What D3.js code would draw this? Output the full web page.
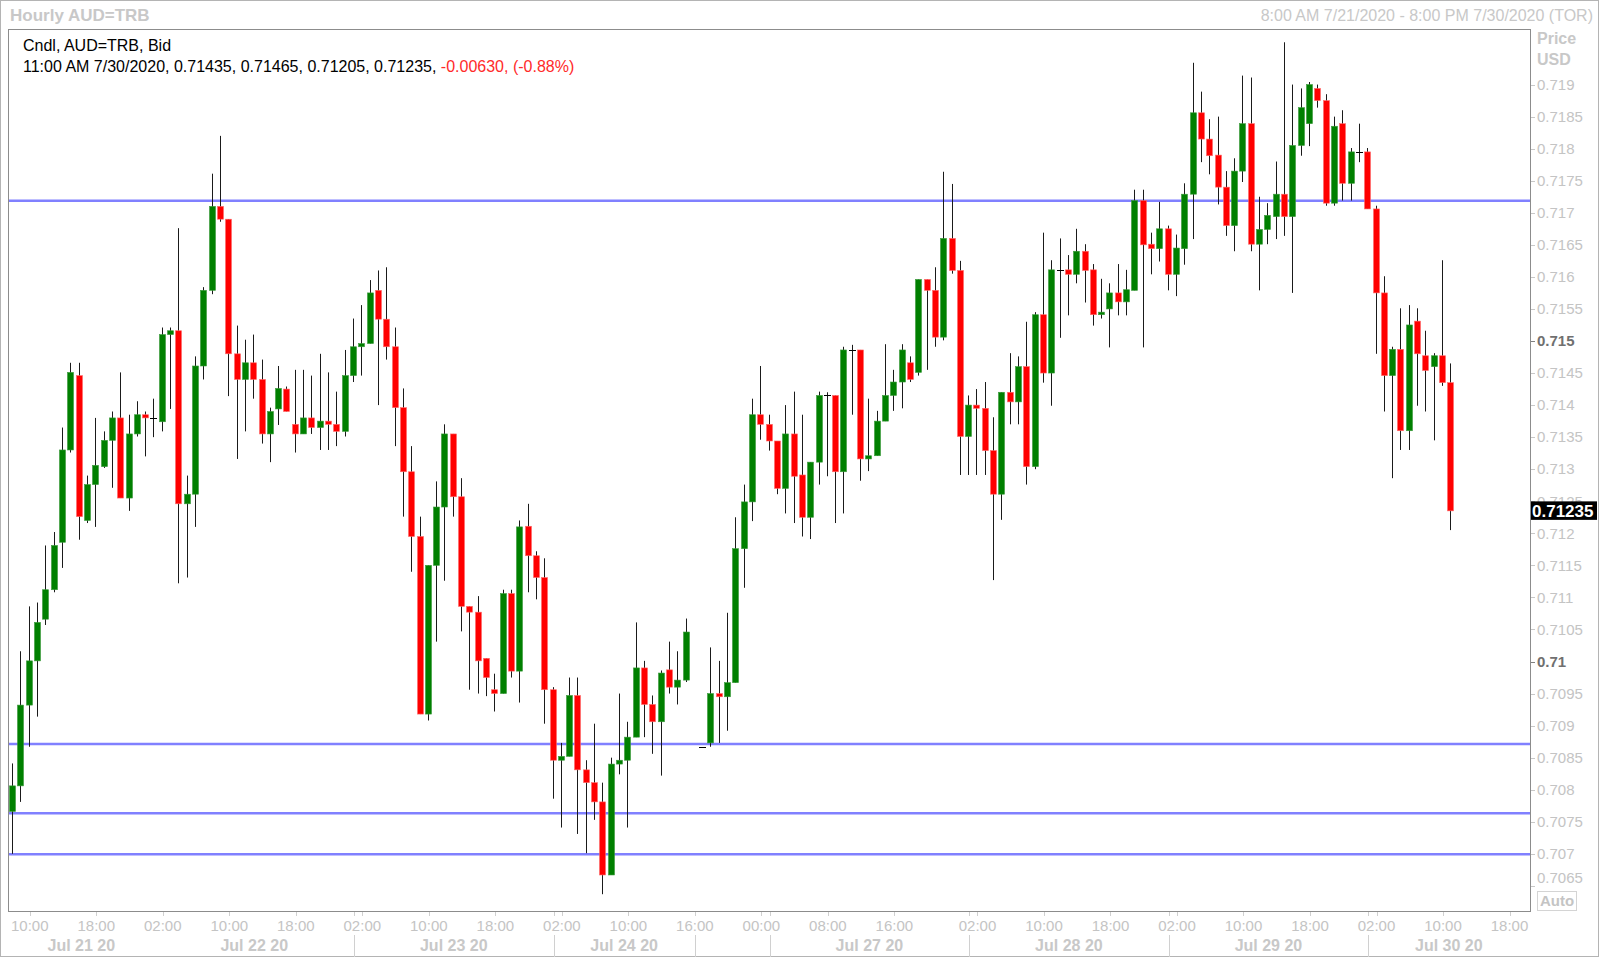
<!DOCTYPE html>
<html><head><meta charset="utf-8">
<script src="https://cdn.jsdelivr.net/npm/d3@7"></script>
<style>body{margin:0;background:#fff;} svg{display:block;font-family:"Liberation Sans",Arial,sans-serif;}</style>
</head><body><svg id="c" width="1600" height="958"></svg>
<script>
// Hourly OHLC, one entry per slot (null = empty slot at the weekend break)
const openP = [0.70766,0.70806,0.70932,0.71001,0.71066,0.71112,0.71186,0.71330,0.71446,0.71220,
0.71276,0.71304,0.71345,0.71380,0.71255,0.71355,0.71385,0.71380,0.71374,0.71510,
0.71516,0.71246,0.71261,0.71461,0.71579,0.71710,0.71690,0.71480,0.71440,0.71466,
0.71440,0.71355,0.71394,0.71425,0.71370,0.71355,0.71380,0.71365,0.71375,0.71370,
0.71359,0.71446,0.71491,0.71496,0.71579,0.71534,0.71491,0.71396,0.71296,0.71195,
0.70918,0.71150,0.71241,0.71355,0.71257,0.71086,0.71077,0.71005,0.70956,0.70950,
0.71106,0.70985,0.71211,0.71165,0.71131,0.70956,0.70846,0.70852,0.70947,0.70831,
0.70811,0.70781,0.70667,0.70840,0.70846,0.70882,0.70990,0.70933,0.70906,0.70987,
0.70960,0.70971,null,0.70867,0.70873,0.70950,0.70945,0.70967,0.71176,0.71249,
0.71385,0.71370,0.71344,0.71270,0.71355,0.71291,0.71225,0.71311,0.71415,0.71415,
0.71296,0.71486,0.71486,0.71316,0.71321,0.71375,0.71415,0.71436,0.71466,0.71451,
0.71596,0.71579,0.71506,0.71660,0.71610,0.71351,0.71400,0.71395,0.71329,0.71261,
0.71420,0.71405,0.71460,0.71304,0.71541,0.71450,0.71611,0.71611,0.71604,0.71640,
0.71611,0.71541,0.71550,0.71575,0.71561,0.71579,0.71719,0.71651,0.71644,0.71675,
0.71604,0.71644,0.71729,0.71856,0.71815,0.71790,0.71740,0.71680,0.71765,0.71839,
0.71651,0.71674,0.71694,0.71729,0.71694,0.71805,0.71839,0.71894,0.71875,0.71715,
0.71839,0.71746,0.71795,0.71795,0.71706,0.71575,0.71446,0.71487,0.71360,0.71531,
0.71477,0.71460,0.71477,0.71435];
const highP = [0.70841,0.71016,0.71086,0.71092,0.71181,0.71202,0.71365,0.71466,0.71466,0.71290,
0.71380,0.71359,0.71390,0.71451,0.71385,0.71406,0.71390,0.71410,0.71521,0.71521,
0.71676,0.71290,0.71476,0.71584,0.71761,0.71820,0.71690,0.71524,0.71502,0.71510,
0.71471,0.71396,0.71461,0.71429,0.71455,0.71455,0.71446,0.71480,0.71451,0.71421,
0.71486,0.71535,0.71556,0.71595,0.71610,0.71615,0.71521,0.71426,0.71336,0.71226,
0.71150,0.71281,0.71370,0.71355,0.71286,0.71086,0.71102,0.71005,0.70981,0.71112,
0.71112,0.71220,0.71246,0.71172,0.71161,0.70960,0.70873,0.70975,0.70975,0.70846,
0.70903,0.70811,0.70850,0.70950,0.70906,0.71061,0.71001,0.70947,0.70986,0.71031,
0.71016,0.71067,null,0.70867,0.71022,0.71001,0.71076,0.71225,0.71276,0.71410,
0.71461,0.71385,0.71344,0.71400,0.71421,0.71385,0.71311,0.71421,0.71420,0.71415,
0.71491,0.71494,0.71486,0.71410,0.71391,0.71495,0.71455,0.71495,0.71476,0.71596,
0.71596,0.71615,0.71764,0.71745,0.71625,0.71415,0.71425,0.71436,0.71381,0.71420,
0.71481,0.71476,0.71530,0.71545,0.71669,0.71626,0.71660,0.71634,0.71675,0.71651,
0.71620,0.71597,0.71590,0.71620,0.71611,0.71736,0.71736,0.71669,0.71717,0.71680,
0.71666,0.71746,0.71934,0.71889,0.71846,0.71850,0.71765,0.71785,0.71914,0.71911,
0.71725,0.71715,0.71780,0.71966,0.71900,0.71894,0.71904,0.71900,0.71885,0.71850,
0.71860,0.71801,0.71839,0.71801,0.71711,0.71601,0.71491,0.71551,0.71556,0.71551,
0.71516,0.71481,0.71626,0.71465];
const lowP = [0.70700,0.70781,0.70867,0.70914,0.71057,0.71108,0.71146,0.71326,0.71190,0.71216,
0.71210,0.71302,0.71271,0.71255,0.71235,0.71351,0.71320,0.71350,0.71359,0.71394,
0.71122,0.71131,0.71210,0.71440,0.71573,0.71686,0.71414,0.71316,0.71359,0.71410,
0.71340,0.71311,0.71369,0.71390,0.71326,0.71355,0.71355,0.71330,0.71330,0.71336,
0.71351,0.71436,0.71446,0.71496,0.71400,0.71471,0.71336,0.71226,0.71140,0.70918,
0.70908,0.71031,0.71126,0.71226,0.71047,0.70956,0.70950,0.70946,0.70922,0.70950,
0.70975,0.70936,0.71108,0.71097,0.70903,0.70786,0.70741,0.70852,0.70731,0.70701,
0.70753,0.70637,0.70667,0.70824,0.70741,0.70882,0.70882,0.70856,0.70822,0.70950,
0.70933,0.70968,null,0.70867,0.70867,0.70873,0.70892,0.70967,0.71115,0.71219,
0.71346,0.71329,0.71261,0.71231,0.71216,0.71195,0.71191,0.71276,0.71289,0.71216,
0.71231,0.71385,0.71282,0.71297,0.71321,0.71375,0.71391,0.71395,0.71436,0.71446,
0.71455,0.71491,0.71501,0.71605,0.71291,0.71291,0.71291,0.71291,0.71127,0.71221,
0.71370,0.71370,0.71276,0.71300,0.71435,0.71399,0.71505,0.71540,0.71590,0.71560,
0.71524,0.71535,0.71490,0.71540,0.71540,0.71579,0.71490,0.71604,0.71624,0.71579,
0.71570,0.71619,0.71659,0.71779,0.71760,0.71713,0.71664,0.71640,0.71748,0.71640,
0.71579,0.71651,0.71659,0.71664,0.71575,0.71789,0.71804,0.71864,0.71711,0.71711,
0.71719,0.71719,0.71779,0.71706,0.71480,0.71390,0.71286,0.71330,0.71330,0.71399,
0.71390,0.71345,0.71430,0.71205];
const closeP = [0.70806,0.70932,0.71001,0.71061,0.71112,0.71181,0.71330,0.71451,0.71226,0.71276,
0.71306,0.71345,0.71380,0.71255,0.71355,0.71385,0.71380,0.71380,0.71510,0.71516,
0.71246,0.71261,0.71461,0.71579,0.71710,0.71690,0.71480,0.71440,0.71466,0.71440,
0.71355,0.71390,0.71426,0.71390,0.71355,0.71380,0.71365,0.71375,0.71370,0.71359,
0.71446,0.71491,0.71496,0.71575,0.71534,0.71491,0.71396,0.71296,0.71195,0.70918,
0.71150,0.71241,0.71355,0.71257,0.71086,0.71077,0.71001,0.70975,0.70950,0.71106,
0.70985,0.71210,0.71165,0.71131,0.70956,0.70846,0.70852,0.70947,0.70831,0.70811,
0.70781,0.70667,0.70840,0.70846,0.70882,0.70990,0.70933,0.70906,0.70982,0.70960,
0.70971,0.71046,null,0.70867,0.70950,0.70945,0.70967,0.71176,0.71249,0.71385,
0.71370,0.71344,0.71270,0.71355,0.71289,0.71225,0.71311,0.71415,0.71415,0.71296,
0.71486,0.71486,0.71316,0.71321,0.71375,0.71415,0.71436,0.71486,0.71440,0.71596,
0.71579,0.71506,0.71660,0.71610,0.71351,0.71400,0.71395,0.71329,0.71261,0.71420,
0.71405,0.71460,0.71304,0.71541,0.71450,0.71611,0.71611,0.71604,0.71640,0.71610,
0.71541,0.71545,0.71575,0.71561,0.71580,0.71719,0.71650,0.71644,0.71675,0.71604,
0.71645,0.71729,0.71856,0.71815,0.71789,0.71740,0.71680,0.71765,0.71839,0.71651,
0.71674,0.71696,0.71729,0.71694,0.71805,0.71864,0.71900,0.71875,0.71715,0.71835,
0.71746,0.71795,0.71795,0.71706,0.71575,0.71446,0.71487,0.71360,0.71525,0.71480,
0.71454,0.71477,0.71435,0.71235];

// Horizontal support / resistance levels
const levels = [0.717187, 0.708715, 0.707632, 0.706995];

// Price axis ticks
const priceTicks = [0.7065,0.707,0.7075,0.708,0.7085,0.709,0.7095,0.71,0.7105,0.711,0.7115,0.712,0.7125,
  0.713,0.7135,0.714,0.7145,0.715,0.7155,0.716,0.7165,0.717,0.7175,0.718,0.7185,0.719];
const priceTickLabels = ["0.7065","0.707","0.7075","0.708","0.7085","0.709","0.7095","0.71","0.7105","0.711","0.7115","0.712","0.7125",
  "0.713","0.7135","0.714","0.7145","0.715","0.7155","0.716","0.7165","0.717","0.7175","0.718","0.7185","0.719"];
const boldPrices = ["0.71","0.715"];

// Time axis (slot index -> label)
const timeTickSlots = [2,10,18,26,34,42,50,58,66,74,82,90,98,106,116,124,132,140,148,156,164,172,180];
const timeTickLabels = ["10:00","18:00","02:00","10:00","18:00","02:00","10:00","18:00","02:00","10:00","16:00","00:00",
  "08:00","16:00","02:00","10:00","18:00","02:00","10:00","18:00","02:00","10:00","18:00"];
const daySepSlots = [41,65,82,91,115,139,163];
const dateLabelSlots = [8.2,29,53,73.5,103,127,151,172.7];
const dateLabels = ["Jul 21 20","Jul 22 20","Jul 23 20","Jul 24 20","Jul 27 20","Jul 28 20","Jul 29 20","Jul 30 20"];

const lastPrice = 0.71235;

const svg = d3.select("#c");
const P = {l:8, r:1530, t:29, b:911};
const x = d3.scaleLinear().domain([0,180]).range([13.17, 13.17 + 180*8.313]);
const y = d3.scaleLinear().domain([0.706108, 0.719867]).range([P.b, P.t]);

svg.append("rect").attr("width",1600).attr("height",958).attr("fill","#fff");
// outer border
svg.append("rect").attr("x",0.5).attr("y",0.5).attr("width",1598).attr("height",956)
  .attr("fill","none").attr("stroke","#b4b4b4");

// header
svg.append("text").attr("x",10).attr("y",21).attr("font-weight","bold").attr("font-size",17)
  .attr("fill","#c8c8c8").text("Hourly AUD=TRB");
svg.append("text").attr("x",1593).attr("y",21).attr("text-anchor","end").attr("font-size",16)
  .attr("fill","#c8c8c8").text("8:00 AM 7/21/2020 - 8:00 PM 7/30/2020 (TOR)");

// plot frame
svg.append("rect").attr("x",P.l+0.5).attr("y",P.t+0.5).attr("width",P.r-P.l).attr("height",P.b-P.t)
  .attr("fill","#fff").attr("stroke","#8c8c8c");

const defs = svg.append("defs");
defs.append("clipPath").attr("id","clip").append("rect")
  .attr("x",P.l+1).attr("y",P.t+1).attr("width",P.r-P.l-1).attr("height",P.b-P.t-1);
const g = svg.append("g").attr("clip-path","url(#clip)");

// levels
g.selectAll("line.lvl").data(levels).enter().append("line")
  .attr("x1",P.l).attr("x2",P.r)
  .attr("y1",d=>y(d)).attr("y2",d=>y(d))
  .attr("stroke","#8080ff").attr("stroke-width",2.5);

// candles
const candles = openP.map((o,i)=>({i, o, h:highP[i], l:lowP[i], c:closeP[i]})).filter(d=>d.o!==null);
const cg = g.selectAll("g.cdl").data(candles).enter().append("g");
cg.append("line")
  .attr("x1",d=>Math.round(x(d.i))-0.5).attr("x2",d=>Math.round(x(d.i))-0.5)
  .attr("y1",d=>y(d.h)).attr("y2",d=>y(d.l))
  .attr("stroke","#1a1a1a").attr("stroke-width",1);
cg.filter(d=>d.o!==d.c).append("rect")
  .attr("x",d=>Math.round(x(d.i))-3.5).attr("width",6)
  .attr("y",d=>y(Math.max(d.o,d.c)))
  .attr("height",d=>Math.max(1.5, Math.abs(y(d.o)-y(d.c))))
  .attr("fill",d=>d.c>d.o?"#008000":"#ff0000")
  .attr("stroke",d=>d.c>d.o?"#3a9a3a":"#ff6a6a").attr("stroke-width",0.6);
cg.filter(d=>d.o===d.c).append("line")
  .attr("x1",d=>Math.round(x(d.i))-4).attr("x2",d=>Math.round(x(d.i))+3)
  .attr("y1",d=>Math.round(y(d.o))+0.5).attr("y2",d=>Math.round(y(d.o))+0.5)
  .attr("stroke","#000").attr("stroke-width",1);

// legend
const lg = svg.append("g").attr("font-size",16).attr("fill","#000");
lg.append("text").attr("x",23).attr("y",51).text("Cndl, AUD=TRB, Bid");
const l2 = lg.append("text").attr("x",23).attr("y",72);
l2.append("tspan").text("11:00 AM 7/30/2020, 0.71435, 0.71465, 0.71205, 0.71235, ");
l2.append("tspan").attr("fill","#ff2a2a").text("-0.00630, (-0.88%)");

// price axis
svg.append("text").attr("x",1537).attr("y",44).attr("font-weight","bold").attr("font-size",16).attr("fill","#c8c8c8").text("Price");
svg.append("text").attr("x",1537).attr("y",65).attr("font-weight","bold").attr("font-size",16).attr("fill","#c8c8c8").text("USD");
const pt = svg.append("g");
priceTicks.forEach((v,k)=>{
  const yy = y(v);
  const lab = priceTickLabels[k];
  const bold = boldPrices.includes(lab);
  pt.append("line").attr("x1",P.r+1).attr("x2",P.r+5).attr("y1",Math.round(yy)+0.5).attr("y2",Math.round(yy)+0.5)
    .attr("stroke",bold?"#808080":"#c8c8c8");
  pt.append("text").attr("x",1537).attr("y",Math.min(yy,878)).attr("dy","0.35em")
    .attr("font-size",15).attr("font-weight",bold?"bold":"normal")
    .attr("fill",bold?"#707070":"#c4c4c4").text(lab);
});
// last price box
svg.append("rect").attr("x",1531).attr("y",y(lastPrice)-9.5).attr("width",66).attr("height",18.5).attr("fill","#000");
svg.append("text").attr("x",1532).attr("y",y(lastPrice)).attr("dy","0.36em").attr("font-size",17)
  .attr("font-weight","bold").attr("fill","#fff").text(d3.format(".5f")(lastPrice));
// Auto button
svg.append("rect").attr("x",1537.5).attr("y",891.5).attr("width",39).attr("height",19)
  .attr("fill","#fff").attr("stroke","#d4d4d4");
svg.append("text").attr("x",1557).attr("y",901).attr("dy","0.35em").attr("text-anchor","middle")
  .attr("font-size",15).attr("font-weight","bold").attr("fill","#c4c4c4").text("Auto");

// time axis
const tg = svg.append("g");
timeTickSlots.forEach((s,k)=>{
  const xx = Math.round(x(s))+0.5;
  tg.append("line").attr("x1",xx).attr("x2",xx).attr("y1",P.b+1).attr("y2",P.b+5).attr("stroke","#d0d0d0");
  tg.append("text").attr("x",x(s)).attr("y",926).attr("dy","0.35em").attr("text-anchor","middle")
    .attr("font-size",15).attr("fill","#c4c4c4").text(timeTickLabels[k]);
});
daySepSlots.forEach(s=>{
  const xx = Math.round(x(s))+0.5;
  tg.append("line").attr("x1",xx).attr("x2",xx).attr("y1",935).attr("y2",957).attr("stroke","#d0d0d0");
  tg.append("line").attr("x1",xx).attr("x2",xx).attr("y1",P.b+1).attr("y2",P.b+5).attr("stroke","#d0d0d0");
});
dateLabelSlots.forEach((s,k)=>{
  tg.append("text").attr("x",x(s)).attr("y",945).attr("dy","0.35em").attr("text-anchor","middle")
    .attr("font-size",16).attr("font-weight","bold").attr("fill","#c8c8c8").text(dateLabels[k]);
});
</script></body></html>
